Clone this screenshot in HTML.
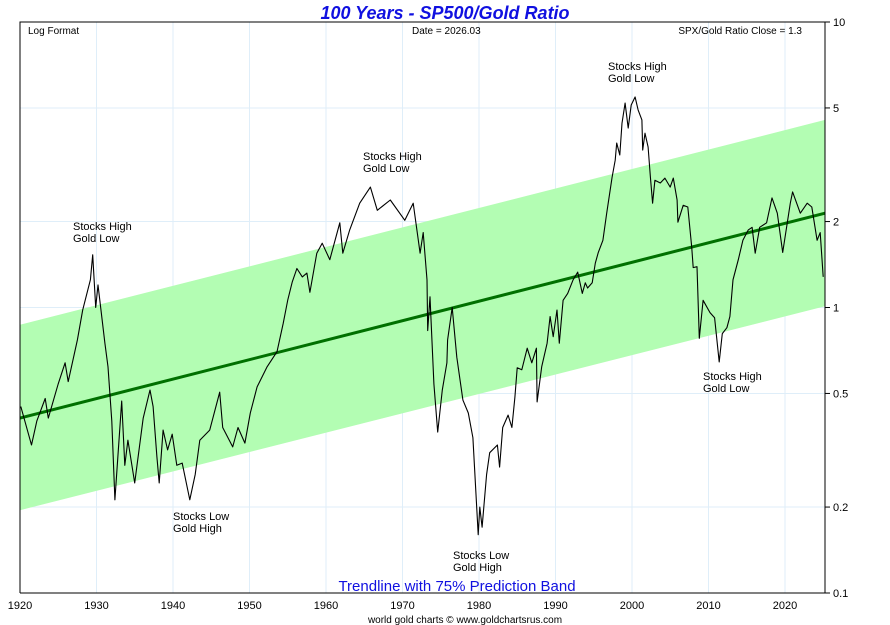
<!DOCTYPE html>
<html><head><meta charset="utf-8"><style>
body{margin:0;background:#fff;width:890px;height:625px;overflow:hidden}
svg{display:block;font-family:"Liberation Sans",sans-serif}
</style></head><body>
<svg id="chart" width="890" height="625"></svg>
<script>
const years=[1920.1,1921.5,1922.2,1923.3,1923.7,1925.0,1925.9,1926.3,1927.5,1928.2,1929.2,1929.5,1929.9,1930.2,1931.1,1931.5,1932.0,1932.4,1933.3,1933.7,1934.1,1935.0,1936.1,1937.0,1937.4,1937.9,1938.2,1938.7,1939.3,1939.9,1940.5,1941.2,1942.2,1942.9,1943.5,1944.8,1946.1,1946.5,1947.8,1948.5,1949.4,1950.1,1951.0,1952.3,1953.6,1954.4,1955.0,1955.6,1956.2,1956.9,1957.5,1957.9,1958.8,1959.5,1960.5,1961.8,1962.2,1963.1,1964.4,1965.8,1966.7,1968.4,1970.3,1971.4,1972.3,1972.7,1973.2,1973.3,1973.6,1974.1,1974.6,1975.2,1975.8,1975.9,1976.5,1977.1,1977.9,1978.6,1979.2,1979.9,1980.1,1980.4,1981.0,1981.4,1982.4,1982.7,1983.1,1983.8,1984.3,1984.7,1985.0,1985.6,1986.3,1986.9,1987.5,1987.6,1988.2,1988.9,1989.3,1989.7,1990.2,1990.5,1991.0,1991.6,1992.3,1992.9,1993.5,1993.9,1994.2,1994.8,1995.2,1995.6,1996.2,1996.7,1997.4,1997.8,1998.0,1998.4,1998.7,1999.1,1999.5,1999.9,2000.4,2000.8,2001.3,2001.4,2001.7,2002.1,2002.4,2002.7,2003.0,2003.7,2004.3,2005.0,2005.4,2005.9,2006.0,2006.7,2007.3,2007.8,2008.0,2008.5,2008.8,2009.3,2010.2,2010.8,2011.4,2011.8,2012.4,2012.8,2013.2,2013.9,2014.5,2015.2,2015.7,2016.1,2016.7,2017.6,2018.3,2019.0,2019.7,2020.7,2021.0,2022.0,2022.9,2023.5,2024.2,2024.6,2025.0];
const ratios=[0.45,0.33,0.40,0.48,0.41,0.54,0.64,0.55,0.77,0.98,1.25,1.53,1.00,1.20,0.75,0.62,0.40,0.212,0.47,0.28,0.343,0.243,0.41,0.514,0.45,0.30,0.243,0.372,0.317,0.36,0.28,0.285,0.212,0.26,0.343,0.372,0.505,0.38,0.325,0.38,0.335,0.427,0.527,0.62,0.70,0.88,1.06,1.23,1.37,1.28,1.32,1.13,1.55,1.68,1.47,1.98,1.55,1.87,2.32,2.64,2.19,2.38,2.02,2.32,1.55,1.83,1.25,0.83,1.09,0.54,0.366,0.514,0.64,0.77,1.00,0.67,0.474,0.427,0.35,0.16,0.20,0.17,0.26,0.31,0.33,0.276,0.38,0.42,0.38,0.485,0.615,0.605,0.72,0.64,0.72,0.467,0.62,0.75,0.93,0.79,0.98,0.75,1.06,1.12,1.25,1.33,1.12,1.22,1.17,1.22,1.43,1.56,1.72,2.14,2.86,3.28,3.77,3.42,4.42,5.20,4.25,5.12,5.46,4.92,4.54,3.56,4.08,3.65,2.86,2.32,2.79,2.73,2.84,2.64,2.84,2.38,1.99,2.28,2.25,1.63,1.38,1.39,0.78,1.06,0.96,0.92,0.645,0.81,0.85,0.93,1.25,1.47,1.72,1.87,1.91,1.55,1.91,1.98,2.42,2.14,1.56,2.32,2.54,2.14,2.32,2.25,1.72,1.83,1.28];
const trendYears=[1920,2025.23];
const trendValues=[0.41,2.14];
const bandUpper=[0.87,4.54];
const bandLower=[0.195,1.01];
const yTicks=[10,5,2,1,0.5,0.2,0.1];
const yTickLabels=["10","5","2","1","0.5","0.2","0.1"];
const xTicks=[1920,1930,1940,1950,1960,1970,1980,1990,2000,2010,2020];

const L=20,R=825,T=22,B=593,X0=1920,X1=2025.23;
const xs=y=>L+(y-X0)/(X1-X0)*(R-L);
const ys=v=>B-(Math.log10(v)+1)/2*(B-T);
const svg=document.getElementById('chart');
const NS='http://www.w3.org/2000/svg';
function mk(tag,attrs,parent){const e=document.createElementNS(NS,tag);for(const k in attrs)e.setAttribute(k,attrs[k]);(parent||svg).appendChild(e);return e;}
function txt(x,y,s,attrs){const e=mk('text',Object.assign({x:x,y:y},attrs||{}));e.textContent=s;return e;}

// grid
for(const v of yTicks){if(v===10||v===0.1)continue;
 const g=mk('line',{x1:L,x2:R,y1:ys(v),y2:ys(v),stroke:'#dfeef9','stroke-width':1});
 
 }
for(const t of xTicks){if(t===1920)continue;
 const g=mk('line',{x1:xs(t),x2:xs(t),y1:T,y2:B,stroke:'#dfeef9','stroke-width':1});
 
 }

// band
const band=mk('polygon',{points:[[xs(trendYears[0]),ys(bandUpper[0])],[xs(trendYears[1]),ys(bandUpper[1])],[xs(trendYears[1]),ys(bandLower[1])],[xs(trendYears[0]),ys(bandLower[0])]].map(p=>p.join(',')).join(' '),fill:'#b3fdb3'});


const tl=mk('line',{x1:xs(trendYears[0]),y1:ys(trendValues[0]),x2:xs(trendYears[1]),y2:ys(trendValues[1]),stroke:'#007000','stroke-width':3});



// series
const pl=mk('polyline',{points:years.map((y,i)=>xs(y).toFixed(1)+','+ys(ratios[i]).toFixed(1)).join(' '),fill:'none',stroke:'#000','stroke-width':1.1,'stroke-linejoin':'round'});



// frame
const fr=mk('path',{d:`M${L},${B}V${T}H${R}V${B}H${L}`,fill:'none',stroke:'#000','stroke-width':1});



// y ticks
yTicks.forEach((v,i)=>{
 const tk=mk('line',{x1:R,x2:R+5,y1:ys(v),y2:ys(v),stroke:'#000'});
 
 
 const lb=txt(R+8,ys(v)+4,yTickLabels[i],{'font-size':11});
 
 
});
xTicks.forEach(t=>{
 const lb=txt(xs(t),609,String(t),{'font-size':11,'text-anchor':'middle'});
 
 
});
</script>
<svg width="0" height="0"></svg>
<div style="position:absolute;left:0;top:0;width:890px;height:625px;pointer-events:none">
<svg width="890" height="625" style="font-family:'Liberation Sans',sans-serif">
<text x="445" y="19" text-anchor="middle" font-size="18" font-weight="bold" font-style="italic" fill="#1010e0">100 Years - SP500/Gold Ratio</text>
<text x="28" y="34" font-size="10">Log Format</text>
<text x="412" y="34" font-size="10">Date = 2026.03</text>
<text x="802" y="34" font-size="10" text-anchor="end">SPX/Gold Ratio Close = 1.3</text>
<g font-size="11"><text x="73" y="230">Stocks High</text><text x="73" y="242">Gold Low</text></g>
<g font-size="11"><text x="363" y="160">Stocks High</text><text x="363" y="172">Gold Low</text></g>
<g font-size="11"><text x="608" y="70">Stocks High</text><text x="608" y="82">Gold Low</text></g>
<g font-size="11"><text x="173" y="520">Stocks Low</text><text x="173" y="532">Gold High</text></g>
<g font-size="11"><text x="453" y="559">Stocks Low</text><text x="453" y="571">Gold High</text></g>
<g font-size="11"><text x="703" y="380">Stocks High</text><text x="703" y="392">Gold Low</text></g>
<text x="457" y="591" text-anchor="middle" font-size="15" fill="#1010e0">Trendline with 75% Prediction Band</text>
<text x="465" y="623" text-anchor="middle" font-size="10">world gold charts © www.goldchartsrus.com</text>
</svg></div>
</body></html>
